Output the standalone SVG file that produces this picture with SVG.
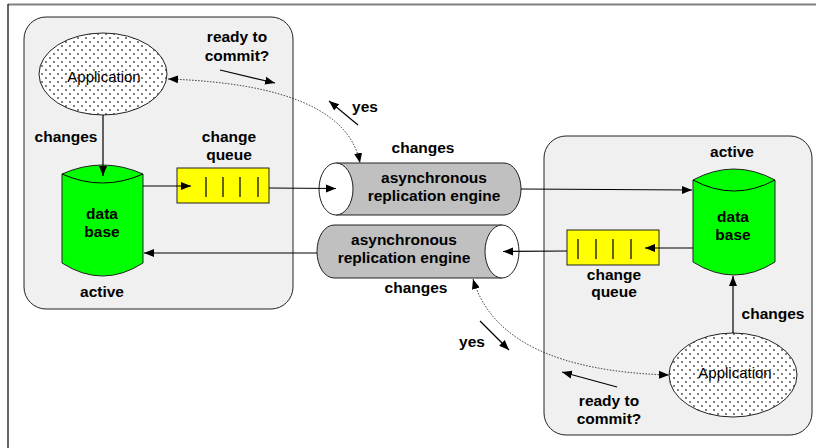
<svg xmlns="http://www.w3.org/2000/svg" width="817" height="448" viewBox="0 0 817 448">
<style>
.t{font-family:"Liberation Sans",Arial,sans-serif;font-size:15.5px;font-weight:bold;fill:#000;text-anchor:middle}
.a{font-family:"Liberation Sans",Arial,sans-serif;font-size:15px;fill:#000;text-anchor:middle}
.panel{fill:#f0f0f0;stroke:#222;stroke-width:1}
.db{fill:#00ff00;stroke:#222;stroke-width:1}
.q{fill:#ffff00;stroke:#222;stroke-width:1}
.eng{fill:#c0c0c0;stroke:#222;stroke-width:1}
.end{fill:#fff;stroke:#222;stroke-width:1}
.ln{fill:none;stroke:#000;stroke-width:1.2}
.dot{fill:none;stroke:#000;stroke-width:0.8;stroke-dasharray:1.5 1.5}
</style>
<defs>
<pattern id="dots" width="8" height="8" patternUnits="userSpaceOnUse">
<rect width="8" height="8" fill="#fff"/>
<circle cx="2" cy="2" r="0.9" fill="#444"/>
<circle cx="6" cy="6" r="0.9" fill="#444"/>
</pattern>
<marker id="ah" viewBox="0 0 10 10" refX="10" refY="5" markerWidth="10" markerHeight="10" markerUnits="userSpaceOnUse" orient="auto-start-reverse">
<path d="M0,1 L10,5 L0,9 Z" fill="#000"/>
</marker>
</defs>
<rect width="817" height="448" fill="#fff"/>
<line x1="8" y1="4.5" x2="816" y2="4.5" stroke="#808080" stroke-width="2"/>
<line x1="8" y1="4" x2="8" y2="448" stroke="#333" stroke-width="1.5"/>

<g id="left-panel"><rect class="panel" x="24" y="17" width="269" height="292" rx="22"/></g>
<g id="right-panel"><rect class="panel" x="544" y="136" width="268" height="299" rx="22"/></g>

<g id="left-app">
<ellipse cx="103" cy="74" rx="64" ry="41" fill="url(#dots)" stroke="#222" stroke-width="1"/>
<text class="a" x="104" y="82">Application</text>
</g>
<g id="right-app">
<ellipse cx="733" cy="375" rx="64" ry="42" fill="url(#dots)" stroke="#222" stroke-width="1"/>
<text class="a" x="735" y="378">Application</text>
</g>

<g id="left-db">
<path class="db" d="M62,174 Q102.5,156 143,174 L143,263 Q102.5,289 62,263 Z"/>
<path class="ln" style="stroke-width:1" d="M62,174 Q102.5,192 143,174"/>
<text class="t" x="102" y="219">data</text>
<text class="t" x="102" y="237">base</text>
</g>
<g id="right-db">
<path class="db" d="M693,180 Q734,158 775,180 L775,262 Q734,288 693,262 Z"/>
<path class="ln" style="stroke-width:1" d="M693,180 Q734,202 775,180"/>
<text class="t" x="733" y="222">data</text>
<text class="t" x="733" y="240">base</text>
</g>

<g id="left-queue">
<rect class="q" x="177" y="168" width="92" height="35"/>
<path class="ln" d="M206,177 V197 M223,177 V197 M240,177 V197 M258,177 V197"/>
</g>
<g id="right-queue">
<rect class="q" x="567" y="230" width="92" height="35"/>
<path class="ln" d="M578,239 V259 M596,239 V259 M613,239 V259 M631,239 V259"/>
</g>

<g id="top-engine">
<path class="eng" d="M336,163 L504,163 A17,26 0 0 1 504,215 L336,215 Z"/>
<ellipse class="end" cx="336" cy="189" rx="17" ry="26"/>
<text class="t" x="434" y="183">asynchronous</text>
<text class="t" x="434" y="201">replication engine</text>
</g>
<g id="bottom-engine">
<path class="eng" d="M502,225 L334,225 A17,26.5 0 0 0 334,278 L502,278 Z"/>
<ellipse class="end" cx="502" cy="251.5" rx="17" ry="26.5"/>
<text class="t" x="404" y="245">asynchronous</text>
<text class="t" x="404" y="263">replication engine</text>
</g>

<g id="connectors">
<line class="ln" x1="103" y1="115" x2="103" y2="176" marker-end="url(#ah)"/>
<line class="ln" x1="143" y1="186" x2="191" y2="186" marker-end="url(#ah)"/>
<line class="ln" x1="269" y1="188" x2="336" y2="188.5" marker-end="url(#ah)"/>
<line class="ln" x1="521" y1="189" x2="692" y2="190" marker-end="url(#ah)"/>
<line class="ln" x1="693" y1="248" x2="645" y2="248" marker-end="url(#ah)"/>
<line class="ln" x1="567" y1="251" x2="503" y2="251.5" marker-end="url(#ah)"/>
<line class="ln" x1="317" y1="253" x2="144" y2="253" marker-end="url(#ah)"/>
<line class="ln" x1="733" y1="333" x2="733" y2="276" marker-end="url(#ah)"/>
<path class="dot" d="M168,79 Q345,85 360,163" marker-start="url(#ah)" marker-end="url(#ah)"/>
<path class="dot" d="M473,279 Q500,370 669,375" marker-start="url(#ah)" marker-end="url(#ah)"/>
<line class="ln" x1="220" y1="70" x2="275" y2="83" marker-end="url(#ah)"/>
<line class="ln" x1="358" y1="125" x2="329" y2="101" marker-end="url(#ah)"/>
<line class="ln" x1="480" y1="321" x2="509" y2="350" marker-end="url(#ah)"/>
<line class="ln" x1="617" y1="387" x2="562" y2="372" marker-end="url(#ah)"/>
</g>

<g id="labels">
<text class="t" x="237" y="42">ready to</text>
<text class="t" x="237" y="61">commit?</text>
<text class="t" x="365" y="112">yes</text>
<text class="t" x="66" y="142">changes</text>
<text class="t" x="229" y="142">change</text>
<text class="t" x="229" y="160">queue</text>
<text class="t" x="102" y="297">active</text>
<text class="t" x="423" y="153">changes</text>
<text class="t" x="416" y="293">changes</text>
<text class="t" x="732" y="157">active</text>
<text class="t" x="614" y="280">change</text>
<text class="t" x="614" y="297">queue</text>
<text class="t" x="773" y="319">changes</text>
<text class="t" x="472" y="347">yes</text>
<text class="t" x="609" y="406">ready to</text>
<text class="t" x="609" y="424">commit?</text>
</g>
</svg>
